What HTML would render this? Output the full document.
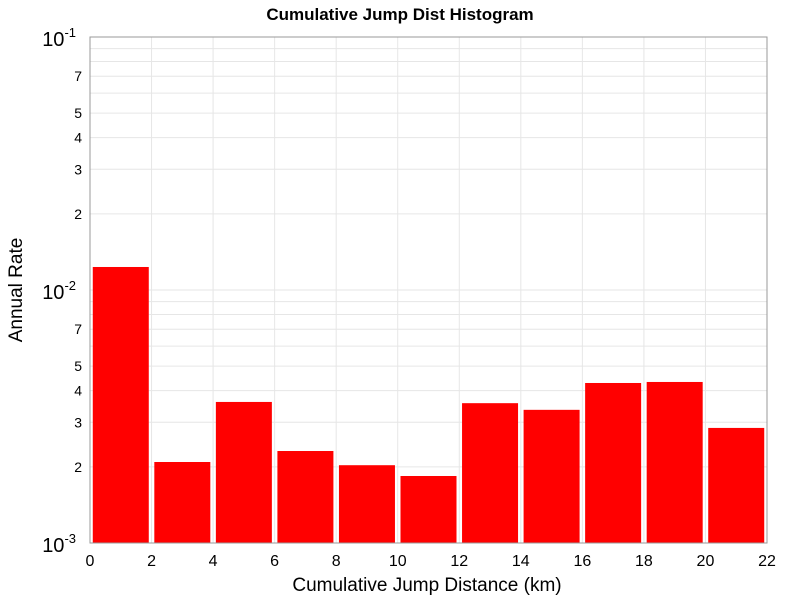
<!DOCTYPE html>
<html><head><meta charset="utf-8"><style>
body{margin:0;background:#fff;}
svg{display:block;font-family:"Liberation Sans","DejaVu Sans",sans-serif;}
</style></head><body>
<svg id="chart" width="800" height="600">
<text x="400" y="20" text-anchor="middle" font-size="17" font-weight="bold">Cumulative Jump Dist Histogram</text>
<g id="grid"></g>
<g id="bars"></g>
<rect x="90" y="37" width="677" height="506" fill="none" stroke="#999"/>
<g id="xticks"></g>
<g id="yticks"></g>
<text x="427" y="591" text-anchor="middle" font-size="19">Cumulative Jump Distance (km)</text>
<text transform="translate(22,290) rotate(-90)" text-anchor="middle" font-size="19">Annual Rate</text>
</svg>
<script>
const binCenters=[1,3,5,7,9,11,13,15,17,19,21];
const rates=[0.01233,0.00209,0.00361,0.00231,0.00203,0.00184,0.00357,0.00336,0.00429,0.00433,0.00285];
const xTicks=[0,2,4,6,8,10,12,14,16,18,20,22];
const yMinorLabels=[2,3,4,5,7];
const NS="http://www.w3.org/2000/svg";
const X0=90,X1=767,Y0=543,Y1=37;
const xs=v=>X0+(v-0)/(22-0)*(X1-X0);
const ys=v=>Y0-(Math.log10(v)+3)/2*(Y0-Y1);
function mk(tag,attrs,parent){const e=document.createElementNS(NS,tag);for(const k in attrs)e.setAttribute(k,attrs[k]);parent.appendChild(e);return e;}
const grid=document.getElementById('grid'),bars=document.getElementById('bars'),xt=document.getElementById('xticks'),yt=document.getElementById('yticks');
for(const x of xTicks){const l=mk('line',{x1:xs(x),x2:xs(x),y1:Y1,y2:Y0,stroke:'#e6e6e6'},grid);


const t=mk('text',{x:xs(x),y:566,'text-anchor':'middle','font-size':'16'},xt);t.textContent=x;

}
for(let d=-3;d<-1;d++){for(let m=1;m<10;m++){const v=m*Math.pow(10,d);const y=ys(v);
const l=mk('line',{x1:X0,x2:X1,y1:y,y2:y,stroke:'#e6e6e6'},grid);


if(yMinorLabels.includes(m)){const t=mk('text',{x:82,y:y+5,'text-anchor':'end','font-size':'14'},yt);t.textContent=m;

}}}
for(const d of [-3,-2,-1]){const y=ys(Math.pow(10,d));const t=mk('text',{x:76,y:y+9,'text-anchor':'end','font-size':'20'},yt);t.textContent='10';


const s=mk('tspan',{dy:'-9','font-size':'13'},t);s.textContent=d;}
binCenters.forEach((c,i)=>{const x=xs(c-0.91),w=xs(c+0.91)-x,y=ys(rates[i]);
const r=mk('rect',{x:x,y:y,width:w,height:Y0-y,fill:'#ff0000'},bars);

});
</script>
</body></html>
